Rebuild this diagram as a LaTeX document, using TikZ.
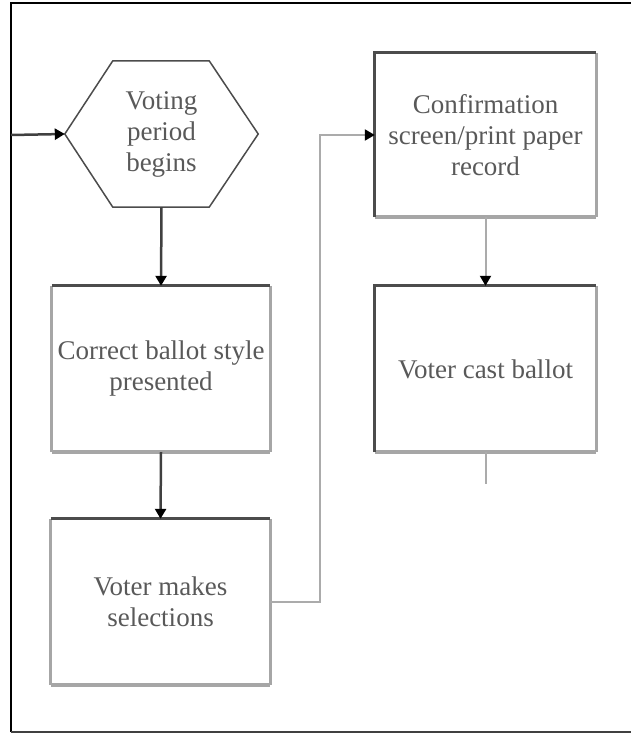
\documentclass[tikz,border=0pt]{standalone}
\usepackage{fontspec}
\newfontfamily\tnr{Liberation Serif}
\usetikzlibrary{arrows.meta,calc}
\begin{document}
\begin{tikzpicture}[x=1pt,y=-1pt,
  txt/.style={font=\tnr\fontsize{27}{31}\selectfont, text=black!65, align=center},
  box/.style={txt, rectangle, inner sep=0pt},
  dk/.style={draw=black!70, line width=3pt},
  lt/.style={draw=black!35, line width=3pt},
  ltb/.style={draw=black!35, line width=4.5pt},
  tip/.style={-{Triangle[length=10pt,width=11pt,color=black]}},
  darrow/.style={draw=black!75, line width=2.5pt, tip},
  larrow/.style={draw=black!33, line width=2pt, tip}]
\useasboundingbox (0,0) rectangle (631,733);
% frame
\draw[black, line width=2.5pt] (11,732) -- (11,3) -- (631,3);
\draw[black!75, line width=2pt] (11,732) -- (631,732);

% hexagon
\node[txt, minimum width=193pt, minimum height=146pt, inner sep=0pt] (hex) at (161.5,134) {Voting\\period\\begins};
\draw[black!70, line width=1.5pt] (hex.west) -- ($(hex.north west)+(48,0)$) -- ($(hex.north east)+(-49,0)$) -- (hex.east) -- ($(hex.south east)+(-49,0)$) -- ($(hex.south west)+(48,0)$) -- cycle;

% boxes
\node[box, minimum width=218pt, minimum height=166pt] (b1) at (161,369) {Correct ballot style\\presented};
\node[box, minimum width=219pt, minimum height=166pt] (b2) at (160.5,602) {Voter makes\\selections};
\node[box, minimum width=221pt, minimum height=164pt] (b3) at (485.5,135) {Confirmation\\screen/print paper\\record};
\node[box, minimum width=221pt, minimum height=166pt] (b4) at (485.5,369) {Voter cast ballot};

% left column boxes: top dark, others light
\foreach \b in {b1,b2}{
  \draw[lt] (\b.north west) -- (\b.south west);
  \draw[lt] (\b.north east) -- (\b.south east);
  \draw[ltb] (\b.south west) -- (\b.south east);
  \draw[dk] (\b.north west) -- (\b.north east);
}
% right column boxes: top and left dark
\foreach \b in {b3,b4}{
  \draw[lt] (\b.north east) -- (\b.south east);
  \draw[ltb] (\b.south west) -- (\b.south east);
  \draw[dk] (\b.south west) -- (\b.north west) -- (\b.north east);
}

% connectors
\coordinate (in) at (11,135);
\draw[darrow] (in) -- (hex.west);
\draw[darrow] (hex.south) -- (b1.north);
\draw[darrow] (b1.south) -- (b2.north);
\draw[larrow] (b2.east) -- ++(50,0) |- (b3.west);
\draw[larrow] (b3.south) -- (b4.north);
\coordinate (out) at ($(b4.south)+(0,32)$);
\draw[draw=black!33, line width=2pt] (b4.south) -- (out);
\end{tikzpicture}
\end{document}
